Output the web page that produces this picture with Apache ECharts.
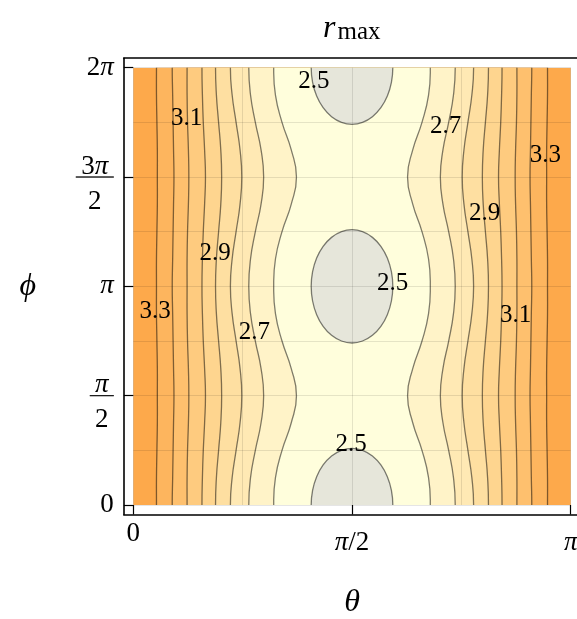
<!DOCTYPE html>
<html>
<head>
<meta charset="utf-8">
<script src="https://cdn.jsdelivr.net/npm/echarts@6.0.0/dist/echarts.min.js"></script>
<style>
html,body{margin:0;padding:0;background:#ffffff;}
#chart{width:577px;height:619px;}
</style>
</head>
<body>
<div id="chart"></div>
<script>
// ---------------- data (θ and φ in units of π) ----------------
const phiSamples = [0, 0.125, 0.25, 0.375, 0.5, 0.625, 0.75, 0.875, 1, 1.125, 1.25, 1.375, 1.5, 1.625, 1.75, 1.875, 2];
const contourLevels = [2.6, 2.7, 2.8, 2.9, 3.0, 3.1, 3.2, 3.3];
// distance (in θ/π) of each contour from θ = π/2, read at each φ sample
const halfWidth26 = [0.179,0.175,0.160,0.139,0.127,0.139,0.160,0.175,0.179,0.175,0.160,0.139,0.127,0.139,0.160,0.175,0.179];
const halfWidth27 = [0.236,0.232,0.221,0.208,0.202,0.208,0.221,0.232,0.236,0.232,0.221,0.208,0.202,0.208,0.221,0.232,0.236];
const halfWidth28 = [0.278,0.274,0.265,0.256,0.252,0.256,0.265,0.274,0.278,0.274,0.265,0.256,0.252,0.256,0.265,0.274,0.278];
const halfWidth29 = [0.312,0.310,0.305,0.300,0.298,0.300,0.305,0.310,0.312,0.310,0.305,0.300,0.298,0.300,0.305,0.310,0.312];
const halfWidth30 = [0.343,0.342,0.340,0.337,0.335,0.337,0.340,0.342,0.343,0.342,0.340,0.337,0.335,0.337,0.340,0.342,0.343];
const halfWidth31 = [0.377,0.377,0.376,0.374,0.373,0.374,0.376,0.377,0.377,0.377,0.376,0.374,0.373,0.374,0.376,0.377,0.377];
const halfWidth32 = [0.411,0.410,0.409,0.408,0.407,0.408,0.409,0.410,0.411,0.410,0.409,0.408,0.407,0.408,0.409,0.410,0.411];
const halfWidth33 = [0.447,0.447,0.446,0.445,0.445,0.445,0.446,0.447,0.447,0.447,0.446,0.445,0.445,0.445,0.446,0.447,0.447];
// innermost contour r = 2.5 : closed loops centred on θ = π/2
const innerLevel = 2.5;
const loopCentersPhi = [0, 1, 2];
const loopDphi = [0, 0.067, 0.1295, 0.183, 0.224, 0.250, 0.259];
const loopHalfWidth = [0.0933, 0.0901, 0.0808, 0.066, 0.0467, 0.0241, 0];
// contour labels
const labelTexts = ['3.1','2.9','3.3','2.7','2.5','2.5','2.5','2.7','3.3','2.9','3.1'];
const labelTheta = [0.122,0.187,0.050,0.277,0.413,0.593,0.498,0.714,0.942,0.803,0.874];
const labelPhi   = [1.768,1.150,0.887,0.787,1.939,1.015,0.279,1.733,1.601,1.335,0.869];
// ticks
const thetaTickValues = [0, 0.5, 1];
const thetaTickTexts = ['0', 'π/2', 'π'];
const phiTickValues = [0, 0.5, 1, 1.5, 2];
const phiTickTexts = ['0', 'π/2', 'π', '3π/2', '2π'];

// ---------------- styles ----------------
// band colours from innermost (< 2.5) to outermost (> 3.3)
const bandColors = ['#e6e6da','#fffedc','#fff3c8','#ffe9b4','#fedfa1','#fed58f','#fecb7f','#fec06e','#fdb55e','#fda94b'];
const contourStroke = 'rgba(0,0,0,0.5)';
const SERIF = "'Liberation Serif','DejaVu Serif',serif";
const SMOOTH = 0.5;

const halfWidths = [halfWidth26, halfWidth27, halfWidth28, halfWidth29, halfWidth30, halfWidth31, halfWidth32, halfWidth33];

function sidePoints(api, hw, side) {
  const n = phiSamples.length;
  const step0 = phiSamples[1] - phiSamples[0];
  const stepN = phiSamples[n - 1] - phiSamples[n - 2];
  const ext = [[phiSamples[0] - stepN, hw[n - 2]]]
    .concat(phiSamples.map((p, k) => [p, hw[k]]))
    .concat([[phiSamples[n - 1] + step0, hw[1]]]);
  return ext.map(([p, w]) => api.coord([0.5 + side * w, p]));
}

function loopPoints(api, cPhi) {
  const pts = [];
  const m = loopDphi.length;
  for (let k = m - 1; k >= 0; k--) pts.push([0.5 + loopHalfWidth[k], cPhi + loopDphi[k]]);
  for (let k = 1; k < m; k++) pts.push([0.5 + loopHalfWidth[k], cPhi - loopDphi[k]]);
  for (let k = m - 2; k >= 0; k--) pts.push([0.5 - loopHalfWidth[k], cPhi - loopDphi[k]]);
  for (let k = 1; k < m - 1; k++) pts.push([0.5 - loopHalfWidth[k], cPhi + loopDphi[k]]);
  return pts.map(p => api.coord(p));
}

function renderFills(params, api) {
  if (params.dataIndex !== 0) return;
  const cs = params.coordSys;
  const children = [];
  children.push({ type: 'rect', shape: { x: cs.x, y: cs.y, width: cs.width, height: cs.height },
                  style: { fill: bandColors[bandColors.length - 1] } });
  for (let i = contourLevels.length - 1; i >= 0; i--) {
    const left = sidePoints(api, halfWidths[i], -1);
    const right = sidePoints(api, halfWidths[i], 1).reverse();
    children.push({ type: 'polygon', shape: { points: left.concat(right), smooth: SMOOTH },
                    style: { fill: bandColors[i + 1] } });
  }
  loopCentersPhi.forEach(c => {
    children.push({ type: 'polygon', shape: { points: loopPoints(api, c), smooth: 0.35 },
                    style: { fill: bandColors[0], stroke: contourStroke, lineWidth: 1.3 } });
  });
  for (let i = 0; i < contourLevels.length; i++) {
    [-1, 1].forEach(side => {
      children.push({ type: 'polyline', shape: { points: sidePoints(api, halfWidths[i], side), smooth: SMOOTH },
                      style: { fill: 'none', stroke: contourStroke, lineWidth: 1.3 } });
    });
  }
  return { type: 'group', children };
}

function renderLabels(params, api) {
  const i = params.dataIndex;
  const p = api.coord([labelTheta[i], labelPhi[i]]);
  return { type: 'text', x: p[0], y: p[1],
           style: { text: labelTexts[i], fill: '#000', fontSize: 25, fontFamily: SERIF,
                    align: 'center', verticalAlign: 'middle' } };
}

function richChars(s, dStyle, piStyle) {
  return s.split('').map(ch => ch === 'π' ? `{${piStyle}|π}` : `{${dStyle}|${ch}}`).join('');
}
function phiLabel(v) {
  const k = phiTickValues.findIndex(t => Math.abs(t - v) < 1e-6);
  if (k < 0) return '';
  const t = phiTickTexts[k];
  if (t.indexOf('/') >= 0) {
    const [num, den] = t.split('/');
    return richChars(num, 'nf', 'nfi') + '\n' + (num.length > 1 ? '{hrL|}' : '{hrS|}') + '\n' + richChars(den, 'df', 'dfi');
  }
  return richChars(t, 'n', 'ni');
}
function thetaLabel(v) {
  const k = thetaTickValues.findIndex(t => Math.abs(t - v) < 1e-6);
  if (k < 0) return '';
  const t = thetaTickTexts[k];
  if (t === '0') return '{x0|0}';
  return richChars(t, 'x', 'xi');
}

const FS = 27;
const tickStyleCommon = { fontFamily: SERIF, fontSize: FS, color: '#000', fontWeight: 'normal' };
const gridLine = { color: 'rgba(0,0,0,0.1)', width: 1 };

const chart = echarts.init(document.getElementById('chart'), null, { renderer: 'canvas' });
const option = {
  animation: false,
  backgroundColor: '#ffffff',
  title: {
    text: '{r|r}{s|max}', left: 318, top: 4,
    textStyle: { fontWeight: 'normal', rich: {
      r: { fontFamily: SERIF, fontStyle: 'italic', fontWeight: 'normal', fontSize: 32, color: '#000', lineHeight: 36, verticalAlign: 'bottom' },
      s: { fontFamily: SERIF, fontWeight: 'normal', fontSize: 25, color: '#000', lineHeight: 36, verticalAlign: 'bottom', padding: [0, 0, 0, 2] }
    } }
  },
  grid: [
    { left: 133.3, top: 67.7, width: 437.4, height: 437.3, outerBoundsMode: 'none', containLabel: false },
    { left: 123.8, top: 58.2, width: 470, height: 456.3, outerBoundsMode: 'none', containLabel: false }
  ],
  xAxis: [
    { type: 'value', gridIndex: 0, min: 0, max: 1, interval: 0.5, offset: 9.5, z: 10,
      axisLine: { show: false, onZero: false },
      axisTick: { show: true, inside: true, length: 9.5, lineStyle: { color: '#000', width: 1.2 } },
      minorTick: { show: false, splitNumber: 2 },
      splitLine: { show: true, lineStyle: gridLine },
      minorSplitLine: { show: true, lineStyle: gridLine },
      axisLabel: { show: true, margin: 6, formatter: thetaLabel, verticalAlign: 'top',
        rich: {
          x0: Object.assign({}, tickStyleCommon),
          x: Object.assign({ padding: [9, 0, 0, 0] }, tickStyleCommon),
          xi: Object.assign({ padding: [9, 0, 0, 0], fontStyle: 'italic' }, tickStyleCommon)
        } },
      name: 'θ', nameLocation: 'middle', nameGap: 88.5,
      nameTextStyle: { fontFamily: SERIF, fontStyle: 'italic', fontSize: 32, color: '#000', align: 'center', verticalAlign: 'middle' }
    },
    { type: 'value', gridIndex: 1, position: 'bottom', min: 0, max: 1,
      axisLine: { show: true, onZero: false, lineStyle: { color: '#000', width: 1.6 } },
      axisTick: { show: false }, axisLabel: { show: false }, splitLine: { show: false } },
    { type: 'value', gridIndex: 1, position: 'top', min: 0, max: 1,
      axisLine: { show: true, onZero: false, lineStyle: { color: '#000', width: 1.6 } },
      axisTick: { show: false }, axisLabel: { show: false }, splitLine: { show: false } }
  ],
  yAxis: [
    { type: 'value', gridIndex: 0, min: 0, max: 2, interval: 0.5, offset: 9.5, z: 10,
      axisLine: { show: false, onZero: false },
      axisTick: { show: true, inside: true, length: 9.5, lineStyle: { color: '#000', width: 1.2 } },
      minorTick: { show: false, splitNumber: 2 },
      splitLine: { show: true, lineStyle: gridLine },
      minorSplitLine: { show: true, lineStyle: gridLine },
      axisLabel: { show: true, margin: 10, formatter: phiLabel,
        rich: {
          n: Object.assign({}, tickStyleCommon),
          ni: Object.assign({ fontStyle: 'italic' }, tickStyleCommon),
          nf: Object.assign({ lineHeight: 35, padding: [14, 0, 0, 0], align: 'center' }, tickStyleCommon),
          nfi: Object.assign({ lineHeight: 35, padding: [14, 0, 0, 0], align: 'center', fontStyle: 'italic' }, tickStyleCommon),
          df: Object.assign({ lineHeight: 35, padding: [14, 0, 0, 0], align: 'center' }, tickStyleCommon),
          dfi: Object.assign({ lineHeight: 35, padding: [14, 0, 0, 0], align: 'center', fontStyle: 'italic' }, tickStyleCommon),
          hrL: { borderColor: '#000', borderWidth: 0.8, width: 38, height: 0, lineHeight: 0 },
          hrS: { borderColor: '#000', borderWidth: 0.8, width: 24, height: 0, lineHeight: 0 }
        } },
      name: 'ϕ', nameLocation: 'middle', nameGap: 96, nameRotate: 0,
      nameTextStyle: { fontFamily: SERIF, fontStyle: 'italic', fontSize: 32, color: '#000', align: 'center', verticalAlign: 'middle' }
    },
    { type: 'value', gridIndex: 1, position: 'left', min: 0, max: 1,
      axisLine: { show: true, onZero: false, lineStyle: { color: '#000', width: 1.6 } },
      axisTick: { show: false }, axisLabel: { show: false }, splitLine: { show: false } }
  ],
  series: [
    { type: 'custom', name: 'r_max', xAxisIndex: 0, yAxisIndex: 0, clip: true, silent: true, z: 2,
      data: [[0.5, 1]], renderItem: renderFills },
    { type: 'custom', name: 'labels', xAxisIndex: 0, yAxisIndex: 0, silent: true, z: 20,
      data: labelTexts.map((t, i) => [labelTheta[i], labelPhi[i]]), renderItem: renderLabels }
  ]
};
chart.setOption(option);
</script>
</body>
</html>
